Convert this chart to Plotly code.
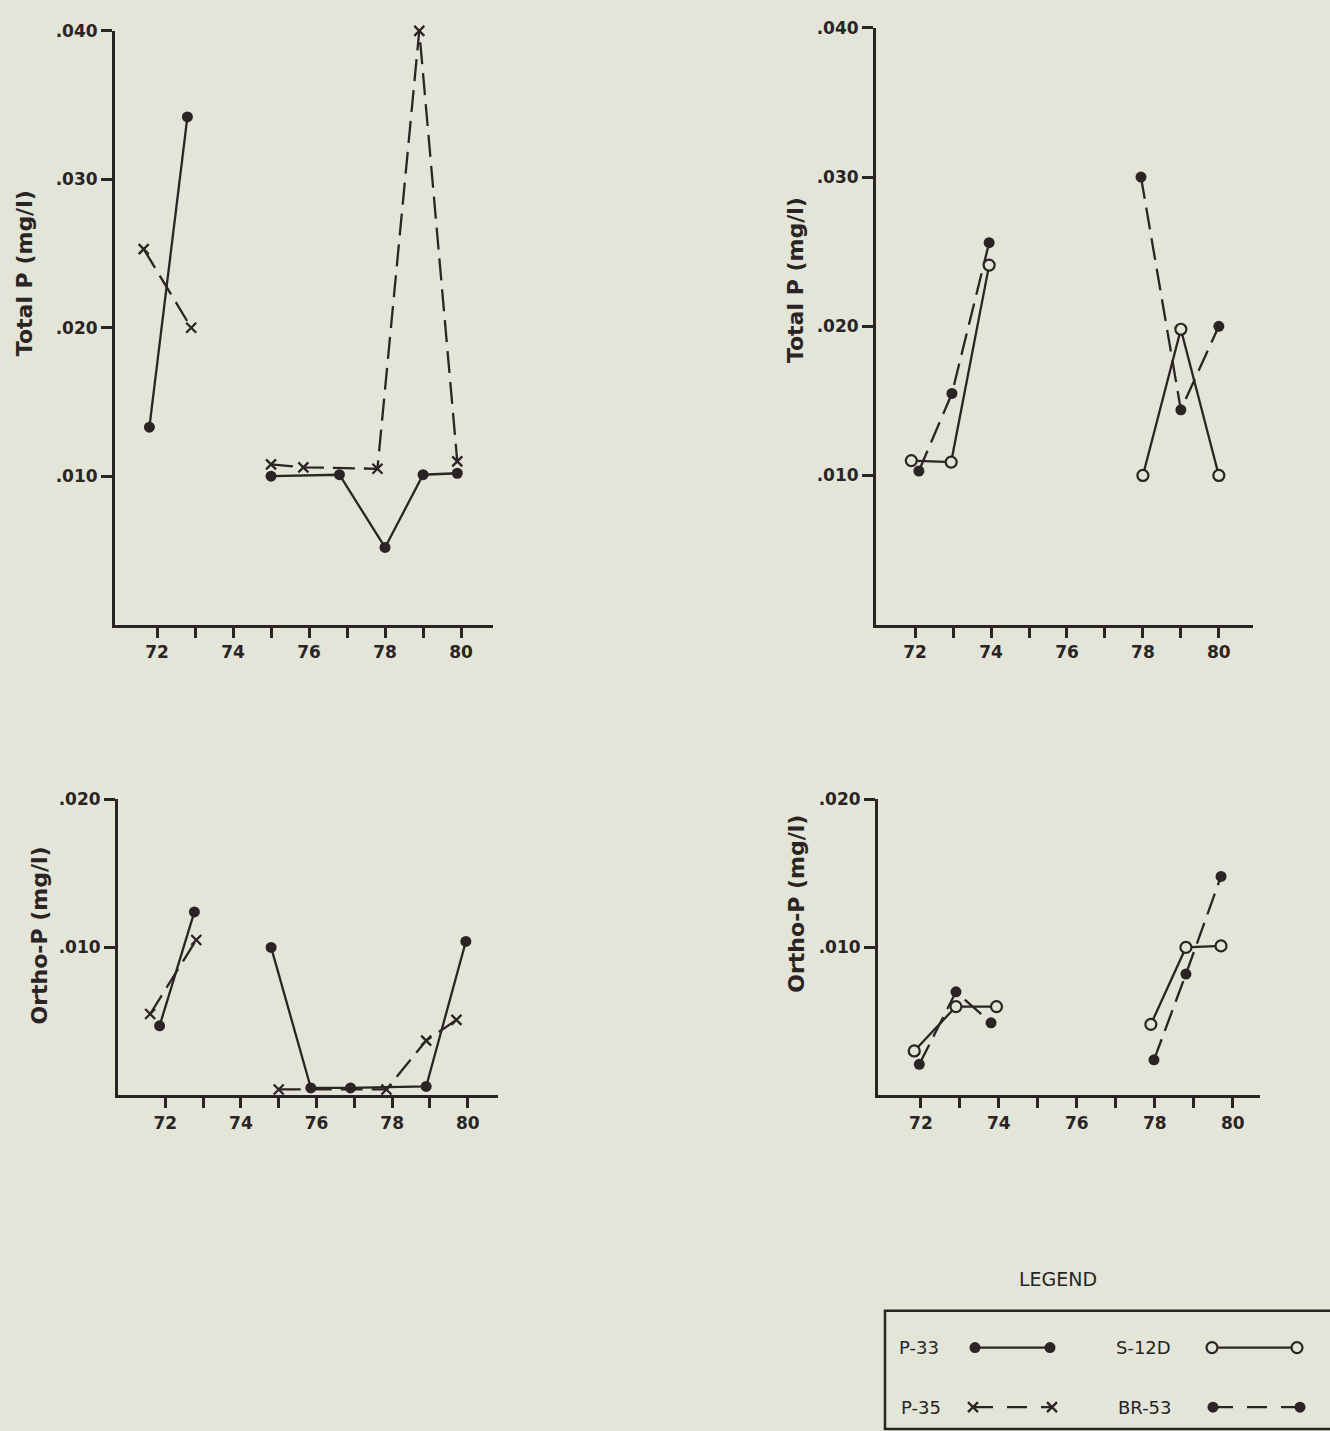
import plotly.graph_objects as go

# ---------------- data ----------------
# Panel A (top-left): Total P, stations P-33 / P-35
p33_tp_x1 = [71.8, 72.8]
p33_tp_y1 = [0.0133, 0.0342]
p33_tp_x2 = [75.0, 76.8, 78.0, 79.0, 79.9]
p33_tp_y2 = [0.0100, 0.0101, 0.0052, 0.0101, 0.0102]
p35_tp_x1 = [71.65, 72.9]
p35_tp_y1 = [0.0253, 0.0200]
p35_tp_x2 = [75.0, 75.85, 77.8, 78.9, 79.9]
p35_tp_y2 = [0.0108, 0.0106, 0.0105, 0.0400, 0.0110]

# Panel B (top-right): Total P, stations S-12D / BR-53
s12d_tp_x1 = [71.9, 72.95, 73.95]
s12d_tp_y1 = [0.0110, 0.0109, 0.0241]
s12d_tp_x2 = [78.0, 79.0, 80.0]
s12d_tp_y2 = [0.0100, 0.0198, 0.0100]
br53_tp_x1 = [72.1, 72.97, 73.95]
br53_tp_y1 = [0.0103, 0.0155, 0.0256]
br53_tp_x2 = [77.95, 79.0, 80.0]
br53_tp_y2 = [0.0300, 0.0144, 0.0200]

# Panel C (bottom-left): Ortho-P, stations P-33 / P-35
p33_op_x1 = [71.85, 72.77]
p33_op_y1 = [0.0047, 0.0124]
p33_op_x2 = [74.8, 75.85, 76.9, 78.9, 79.95]
p33_op_y2 = [0.0100, 0.0005, 0.0005, 0.0006, 0.0104]
p35_op_x1 = [71.6, 72.82]
p35_op_y1 = [0.0055, 0.0105]
p35_op_x2 = [75.0, 77.85, 78.9, 79.7]
p35_op_y2 = [0.0004, 0.0004, 0.0037, 0.0051]

# Panel D (bottom-right): Ortho-P, stations S-12D / BR-53
s12d_op_x1 = [71.83, 72.9, 73.94]
s12d_op_y1 = [0.0030, 0.0060, 0.0060]
s12d_op_x2 = [77.9, 78.8, 79.7]
s12d_op_y2 = [0.0048, 0.0100, 0.0101]
br53_op_x1 = [71.96, 72.9, 73.8]
br53_op_y1 = [0.0021, 0.0070, 0.0049]
br53_op_x2 = [77.98, 78.8, 79.7]
br53_op_y2 = [0.0024, 0.0082, 0.0148]

year_ticks = [72, 73, 74, 75, 76, 77, 78, 79, 80]
year_labels = ["72", "", "74", "", "76", "", "78", "", "80"]
tp_ticks = [0.010, 0.020, 0.030, 0.040]
tp_labels = [".010", ".020", ".030", ".040"]
op_ticks = [0.010, 0.020]
op_labels = [".010", ".020"]

station_names = ["P-33", "S-12D", "P-35", "BR-53"]

# ---------------- styling ----------------
W, H = 1330, 1431
INK = "#2a2424"
BG = "#e2e5d7"
FONT = "DejaVu Sans"
DASH = "22px,9px"


def join(x1, y1, x2, y2):
    return x1 + [None] + x2, y1 + [None] + y2


def style(kind):
    if kind == "P-33":
        return dict(line=dict(color=INK, width=2.3),
                    marker=dict(symbol="circle", size=11, color=INK))
    if kind == "P-35":
        return dict(line=dict(color=INK, width=2.3, dash=DASH),
                    marker=dict(symbol="x-thin", size=10, color=INK,
                                line=dict(color=INK, width=2.3)))
    if kind == "S-12D":
        return dict(line=dict(color=INK, width=2.3),
                    marker=dict(symbol="circle", size=11, color=BG,
                                line=dict(color=INK, width=2.2)))
    return dict(line=dict(color=INK, width=2.3, dash=DASH),
                marker=dict(symbol="circle", size=11, color=INK))


fig = go.Figure()

panels = [
    ("x", "y", [("P-35", p35_tp_x1, p35_tp_y1, p35_tp_x2, p35_tp_y2),
                ("P-33", p33_tp_x1, p33_tp_y1, p33_tp_x2, p33_tp_y2)]),
    ("x2", "y2", [("BR-53", br53_tp_x1, br53_tp_y1, br53_tp_x2, br53_tp_y2),
                  ("S-12D", s12d_tp_x1, s12d_tp_y1, s12d_tp_x2, s12d_tp_y2)]),
    ("x3", "y3", [("P-35", p35_op_x1, p35_op_y1, p35_op_x2, p35_op_y2),
                  ("P-33", p33_op_x1, p33_op_y1, p33_op_x2, p33_op_y2)]),
    ("x4", "y4", [("BR-53", br53_op_x1, br53_op_y1, br53_op_x2, br53_op_y2),
                  ("S-12D", s12d_op_x1, s12d_op_y1, s12d_op_x2, s12d_op_y2)]),
]
for xa, ya, series in panels:
    for name, x1, y1, x2, y2 in series:
        xs, ys = join(x1, y1, x2, y2)
        fig.add_trace(go.Scatter(x=xs, y=ys, mode="lines+markers", name=name,
                                 xaxis=xa, yaxis=ya, showlegend=False,
                                 cliponaxis=False, connectgaps=False,
                                 **style(name)))


def px_x(p):
    return p / W


def px_y(p):
    return 1 - p / H


def xaxis(x0, x1, rng, anchor):
    return dict(domain=[px_x(x0), px_x(x1)], range=rng, showline=True,
                linewidth=3, linecolor=INK, showgrid=False, zeroline=False,
                ticks="outside", ticklen=10, tickwidth=3, tickcolor=INK,
                tickvals=year_ticks, ticktext=year_labels, anchor=anchor,
                tickfont=dict(family=FONT, size=17, color=INK, weight="bold"),
                fixedrange=True)


def yaxis(y_top, y_bot, rng, tv, tt, anchor):
    return dict(domain=[px_y(y_bot), px_y(y_top)], range=rng, showline=True,
                linewidth=3, linecolor=INK, showgrid=False, zeroline=False,
                ticks="outside", ticklen=11, tickwidth=3, tickcolor=INK,
                tickvals=tv, ticktext=tt, anchor=anchor,
                tickfont=dict(family=FONT, size=17, color=INK, weight="bold"),
                fixedrange=True)


LG_X0, LG_Y0 = 885, 1260  # legend key area (pixels, top-left)

fig.update_layout(
    width=W, height=H, autosize=False,
    margin=dict(l=0, r=0, t=0, b=0),
    paper_bgcolor=BG, plot_bgcolor="rgba(0,0,0,0)",
    font=dict(family=FONT, color=INK),
    xaxis=xaxis(115, 493, [70.895, 80.84], "y"),
    yaxis=yaxis(21, 619, [0, 0.040], tp_ticks, tp_labels, "x"),
    xaxis2=xaxis(876, 1253, [70.97, 80.9], "y2"),
    yaxis2=yaxis(18, 619, [0, 0.040], tp_ticks, tp_labels, "x2"),
    xaxis3=xaxis(118, 498, [70.75, 80.8], "y3"),
    yaxis3=yaxis(795, 1093, [0, 0.020], op_ticks, op_labels, "x3"),
    xaxis4=xaxis(878, 1260, [70.9, 80.7], "y4"),
    yaxis4=yaxis(795, 1093, [0, 0.020], op_ticks, op_labels, "x4"),
    # axis in pixel units for the hand-drawn legend key
    xaxis5=dict(domain=[px_x(LG_X0), 1], range=[LG_X0, W], visible=False,
                fixedrange=True, anchor="y5"),
    yaxis5=dict(domain=[0, px_y(LG_Y0)], range=[H, LG_Y0], visible=False,
                fixedrange=True, anchor="x5"),
    showlegend=False,
)

# axis titles (rotated)
titles = [("Total P (mg/l)", 24, 265), ("Total P (mg/l)", 795, 272),
          ("Ortho-P (mg/l)", 39, 932), ("Ortho-P (mg/l)", 797, 900)]
for txt, cx, cy in titles:
    fig.add_annotation(text=txt, x=px_x(cx), y=px_y(cy), xref="paper",
                       yref="paper", xanchor="center", yanchor="middle",
                       showarrow=False, textangle=-90,
                       font=dict(family=FONT, size=22, color=INK,
                                 weight="bold"))

# legend
fig.add_annotation(text="LEGEND", x=px_x(1058), y=px_y(1278), xref="paper",
                   yref="paper", xanchor="center", yanchor="middle",
                   showarrow=False,
                   font=dict(family=FONT, size=19, color=INK))
fig.add_shape(type="rect", xref="paper", yref="paper",
              x0=px_x(885), x1=px_x(1345), y0=px_y(1429), y1=px_y(1310),
              line=dict(color=INK, width=2.5), fillcolor="rgba(0,0,0,0)")

legend_rows = [("P-33", 897, 1347, 975, 1050),
               ("S-12D", 1114, 1347, 1212, 1297),
               ("P-35", 899, 1407, 973, 1052),
               ("BR-53", 1116, 1407, 1213, 1300)]
for name, tx, ty, s0, s1 in legend_rows:
    fig.add_annotation(text=name, x=px_x(tx), y=px_y(ty), xref="paper",
                       yref="paper", xanchor="left", yanchor="middle",
                       showarrow=False,
                       font=dict(family=FONT, size=18, color=INK))
    st = style(name)
    if "dash" in st["line"]:
        st["line"]["dash"] = "20px,14px"
    fig.add_trace(go.Scatter(x=[s0, s1], y=[ty, ty], mode="lines+markers",
                             xaxis="x5", yaxis="y5", showlegend=False,
                             cliponaxis=False, hoverinfo="skip", **st))

fig.write_html("out.html", config={"displayModeBar": False},
               post_script="document.body.style.margin='0';"
                           "document.body.style.overflow='hidden';")
